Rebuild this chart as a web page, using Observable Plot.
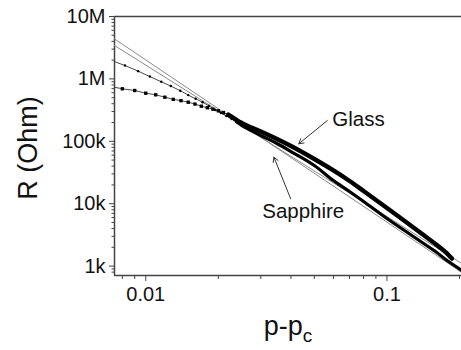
<!DOCTYPE html>
<html><head><meta charset="utf-8">
<script src="https://cdn.jsdelivr.net/npm/d3@7"></script>
<script src="https://cdn.jsdelivr.net/npm/@observablehq/plot@0.6"></script>
<style>
html,body{margin:0;padding:0;background:#fff;}
#chart{width:461px;height:350px;overflow:hidden;}
svg{font-family:"Liberation Sans",Arial,Helvetica,sans-serif;}
</style></head><body><div id="chart"></div>
<script>
// ---- data ----
const glassP = [0.007,0.008,0.009,0.010,0.011,0.012,0.013,0.014,0.015,0.016,0.017,0.018,0.019,0.020,0.021,0.022,0.023,0.024,0.025,
  0.03,0.035,0.04,0.05,0.06,0.07,0.08,0.10,0.12,0.14,0.16,0.18,0.186];
const glassR = [769e3,694e3,652e3,590e3,556e3,509e3,470e3,448e3,423e3,395e3,365e3,345e3,327e3,308e3,289e3,267e3,239e3,215e3,197e3,
  143.6e3,108.9e3,84.1e3,52.0e3,34.1e3,23.1e3,15.98e3,8.53e3,5.09e3,3.27e3,2.22e3,1.51e3,1.32e3];
const sapphireP = [0.0071,0.0082,0.0093,0.0104,0.0116,0.0127,0.0139,0.0150,0.0161,0.0172,0.0183,0.0194,0.0205,0.0216,0.0227,0.0238,0.0249,
  0.03,0.035,0.04,0.05,0.06,0.07,0.08,0.10,0.12,0.14,0.16,0.18,0.20,0.21];
const sapphireR = [2.01e6,1.64e6,1.33e6,1.09e6,898e3,769e3,647e3,550e3,480e3,423e3,368e3,317e3,284e3,254e3,228e3,204e3,182e3,
  123.9e3,92.2e3,68.6e3,40.9e3,23.5e3,15.7e3,10.85e3,5.79e3,3.58e3,2.39e3,1.68e3,1.185e3,899,790];
// power-law fit lines (end points)
const fitP = [0.007, 0.21];
const fitSapphireR = [5.09e6, 736];
const fitGlassR = [3.95e6, 1.03e3];
const denseFrom = 0.0235; // where the markers merge into a solid band

// axes
const xDomain = [0.00742, 0.2038];
const yDomain = [707, 1e7];
const xMajor = [0.01, 0.1];
const xMajorLabels = ["0.01", "0.1"];
const xMinor = [0.008,0.009,0.02,0.03,0.04,0.05,0.06,0.07,0.08,0.09,0.2];
const yMajor = [1e3, 1e4, 1e5, 1e6, 1e7];
const yMajorLabels = ["1k", "10k", "100k", "1M", "10M"];
const yMinor = [];
for (const d of [1e3,1e4,1e5,1e6]) for (let k = 2; k <= 9; k++) yMinor.push(d*k);
const yMinorLow = [800, 900];

// annotations
const noteText = ["Glass", "Sapphire"];
const noteP = [0.0594, 0.0304];
const noteR = [220e3, 7.47e3];
const arrowFromP = [0.0566, 0.0399];
const arrowFromR = [215e3, 11.98e3];
const arrowToP = [0.0431, 0.0340];
const arrowToR = [91.2e3, 55.6e3];

// ---- build tables ----
const glass = glassP.map((p, i) => ({p, r: glassR[i]}));
const sapphire = sapphireP.map((p, i) => ({p, r: sapphireR[i]}));
const fitS = fitP.map((p, i) => ({p, r: fitSapphireR[i]}));
const fitG = fitP.map((p, i) => ({p, r: fitGlassR[i]}));
const notes = noteText.map((t, i) => ({t, p: noteP[i], r: noteR[i]}));
const arrows = arrowFromP.map((p, i) => ({x1: p, y1: arrowFromR[i], x2: arrowToP[i], y2: arrowToR[i]}));
const xLab = new Map(xMajor.map((d, i) => [d, xMajorLabels[i]]));
const yLab = new Map(yMajor.map((d, i) => [d, yMajorLabels[i]]));

const ink = "#111";
const chart = Plot.plot({
  width: 461, height: 350,
  marginLeft: 114, marginRight: 0, marginTop: 16, marginBottom: 75,
  style: {fontFamily: '"Liberation Sans", Arial, sans-serif', fontSize: "20px", color: ink, background: "white"},
  x: {type: "log", domain: xDomain},
  y: {type: "log", domain: yDomain},
  marks: [
    Plot.axisY(yMajor, {tickFormat: d => yLab.get(d), tickSize: 5, tickPadding: 4, label: null, fontSize: 20, stroke: "#444"}),
    Plot.axisY(yMinor.concat(yMinorLow), {tickFormat: () => "", tickSize: 2.5, label: null, stroke: "#444"}),
    Plot.axisX(xMajor, {tickFormat: d => xLab.get(d), tickSize: 6, tickPadding: 5, label: null, fontSize: 20, stroke: "#444"}),
    Plot.axisX(xMinor, {tickFormat: () => "", tickSize: 4, label: null, stroke: "#444"}),
    Plot.ruleX([xDomain[0]], {stroke: "#444", strokeWidth: 1.5}),
    Plot.ruleY([yDomain[0]], {stroke: "#444", strokeWidth: 1.5}),
    Plot.ruleY([yDomain[1]], {stroke: "#444", strokeWidth: 1.5}),
    Plot.line(fitS, {x: "p", y: "r", stroke: "#8a8a8a", strokeWidth: 1, clip: true}),
    Plot.line(fitG, {x: "p", y: "r", stroke: "#8a8a8a", strokeWidth: 1, clip: true}),
    Plot.line(glass, {x: "p", y: "r", stroke: "#333", strokeWidth: 0.9, clip: true}),
    Plot.line(sapphire, {x: "p", y: "r", stroke: "#333", strokeWidth: 0.9, clip: true}),
    Plot.dot(glass.filter(d => d.p < denseFrom), {x: "p", y: "r", symbol: "square", r: 1.9, fill: "#000", stroke: "none", clip: true}),
    Plot.dot(sapphire.filter(d => d.p < denseFrom), {x: "p", y: "r", r: 1.2, fill: "#000", stroke: "none", clip: true}),
    Plot.line(glass.filter(d => d.p >= denseFrom - 0.0015), {x: "p", y: "r", stroke: "#000", strokeWidth: 4.4, curve: "monotone-x", clip: true}),
    Plot.line(sapphire.filter(d => d.p >= denseFrom), {x: "p", y: "r", stroke: "#000", strokeWidth: 3.2, curve: "monotone-x", clip: true}),
    Plot.arrow(arrows, {x1: "x1", y1: "y1", x2: "x2", y2: "y2", stroke: "#333", strokeWidth: 1, headLength: 8}),
    Plot.text(notes, {x: "p", y: "r", text: "t", textAnchor: "start", fontSize: 20.5, fill: ink})
  ]
});
document.getElementById("chart").appendChild(chart);

// axis titles
const svg = d3.select(chart);
svg.append("text")
  .attr("transform", "translate(37,148) rotate(-90)")
  .attr("text-anchor", "middle")
  .attr("fill", ink)
  .style("font-size", "27px")
  .text("R (Ohm)");
const xt = svg.append("text")
  .attr("x", 288).attr("y", 335)
  .attr("text-anchor", "middle")
  .attr("fill", ink)
  .style("font-size", "27px");
xt.append("tspan").text("p-p");
xt.append("tspan").attr("dy", 7).style("font-size", "19px").text("c");
</script>
</body></html>
